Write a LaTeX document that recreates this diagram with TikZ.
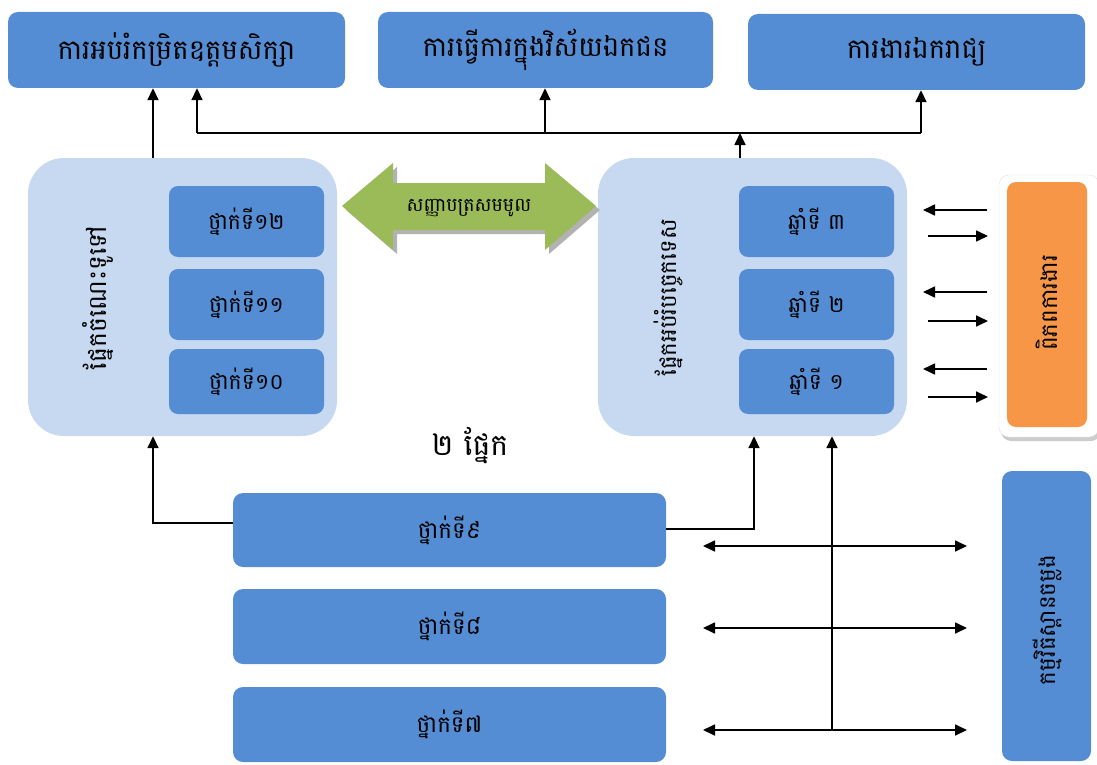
\documentclass[tikz,border=0pt]{standalone}
\usepackage{fontspec}
\newfontfamily\khmer[Script=Khmer]{Battambang}
\usetikzlibrary{arrows.meta,shadows}

\definecolor{boxblue}{RGB}{84,141,212}
\definecolor{paleblue}{RGB}{198,217,241}
\definecolor{leafgreen}{RGB}{155,187,89}
\definecolor{tangerine}{RGB}{247,150,70}

\tikzset{
  topbox/.style={fill=boxblue, rounded corners=10pt, minimum width=337pt, minimum height=76pt, font=\khmer\fontsize{27.5}{30}\selectfont},
  panel/.style={fill=paleblue, rounded corners=36pt, minimum width=309pt, minimum height=278pt},
  gradebox/.style={fill=boxblue, rounded corners=9pt, minimum width=155pt, font=\khmer\fontsize{22}{25}\selectfont},
  longbox/.style={fill=boxblue, rounded corners=10pt, minimum width=433pt, minimum height=74pt, font=\khmer\fontsize{23}{26}\selectfont},
  sidetext/.style={rotate=90, font=\khmer\fontsize{23}{26}\selectfont},
  arr/.style={line width=1.7pt, -{Triangle[length=12pt,width=11pt]}},
  biarr/.style={line width=1.7pt, {Triangle[length=12pt,width=11pt]}-{Triangle[length=12pt,width=11pt]}},
}

\begin{document}
\begin{tikzpicture}[x=1pt,y=-1pt]
  \useasboundingbox (0,0) rectangle (1097,765);

  % top row
  \node[topbox] (edu)   at (176.5,50) {ការអប់រំកម្រិតឧត្តមសិក្សា};
  \node[topbox, minimum width=335pt] (priv) at (545.5,50) {ការធ្វើការក្នុងវិស័យឯកជន};
  \node[topbox] (indep) at (916.5,52) {ការងារឯករាជ្យ};

  % the two sections
  \node[panel] (genL) at (182.5,297) {};
  \node[panel] (tecR) at (752.5,297) {};
  \node[sidetext, font=\khmer\fontsize{25}{28}\selectfont] (genT) at (98,298) {ផ្នែកចំណេះទូទៅ};
  \node[sidetext] (tecT) at (668,298) {ផ្នែកអប់រំបច្ចេកទេស};

  \node[gradebox, minimum height=71pt] (g12) at (246.5,221.5) {ថ្នាក់ទី១២};
  \node[gradebox, minimum height=71pt] (g11) at (246.5,304.5) {ថ្នាក់ទី១១};
  \node[gradebox, minimum height=65pt] (g10) at (246.5,381.5) {ថ្នាក់ទី១០};
  \node[gradebox, minimum height=71pt] (y3) at (816.5,221.5) {ឆ្នាំទី ៣};
  \node[gradebox, minimum height=71pt] (y2) at (816.5,304.5) {ឆ្នាំទី ២};
  \node[gradebox, minimum height=65pt] (y1) at (816.5,381.5) {ឆ្នាំទី ១};

  % equivalence arrow
  \fill[black!30] (346,210) -- (397,167) -- (397,187) -- (549,187) -- (549,167) -- (600,210)
     -- (549,254) -- (549,234) -- (397,234) -- (397,254) -- cycle;
  \fill[leafgreen] (342,206) -- (393,163) -- (393,183) -- (545,183) -- (545,163) -- (596,206)
     -- (545,250) -- (545,230) -- (393,230) -- (393,250) -- cycle;
  \node[font=\khmer\fontsize{19}{22}\selectfont] (equiv) at (469,208) {សញ្ញាបត្រសមមូល};

  \node[font=\khmer\fontsize{30}{33}\selectfont] (two) at (470,446) {២ ផ្នែក};

  % world of work
  \node[fill=white, draw=black!12, rounded corners=10pt, minimum width=100pt, minimum height=262pt,
        drop shadow={shadow xshift=2pt, shadow yshift=-4pt, fill=black!40, opacity=0.5}] (frame) at (1049,306) {};
  \node[fill=tangerine, rounded corners=9pt, minimum width=80pt, minimum height=245pt] (world) at (1047,304.5) {};
  \node[sidetext] (worldT) at (1047,303) {ពិភពការងារ};

  % lower grades
  \node[longbox] (g9) at (449.5,530) {ថ្នាក់ទី៩};
  \node[longbox, minimum height=75pt] (g8) at (449.5,626.5) {ថ្នាក់ទី៨};
  \node[longbox, minimum height=75pt] (g7) at (449.5,724.5) {ថ្នាក់ទី៧};

  \node[fill=boxblue, rounded corners=10pt, minimum width=89pt, minimum height=290pt] (bridge) at (1046.5,616) {};
  \node[sidetext] (bridgeT) at (1047,620) {កម្មវិធីស្ពានចម្លង};

  % paths upward
  \coordinate (aL) at (153,158);
  \coordinate (jL) at (197,133);
  \coordinate (jM) at (545,133);
  \coordinate (jT) at (740,133);
  \coordinate (jR) at (921,133);
  \draw[arr] (aL) -- (aL |- edu.south);
  \draw[line width=1.7pt] (jL) -- (jR);
  \draw[arr] (jL) -- (jL |- edu.south);
  \draw[arr] (jM) -- (jM |- priv.south);
  \draw[arr] (jR) -- (jR |- indep.south);
  \draw[arr] (tecR.north -| jT) -- (jT);

  % from grade 9
  \coordinate (kL) at (153,523);
  \coordinate (kR) at (754,529);
  \coordinate (vB) at (832,730);
  \draw[arr] (kL -| g9.west) -- (kL) -- (kL |- genL.south);
  \draw[arr] (kR -| g9.east) -- (kR) -- (kR |- tecR.south);
  \draw[arr] (vB) -- (vB |- tecR.south);

  % bridging links
  \foreach \y [count=\i] in {546,628,730} {
    \coordinate (bl\i) at (703,\y);
    \coordinate (br\i) at (967,\y);
    \draw[biarr] (bl\i) -- (br\i);
  }

  % links to the world of work
  \foreach \a/\b [count=\i] in {210/236,292/321,369/397} {
    \coordinate (wo\i) at (987,\a);
    \coordinate (wi\i) at (928,\b);
    \draw[arr] (wo\i) -- ++(-64,0);
    \draw[arr] (wi\i) -- ++(60,0);
  }
\end{tikzpicture}
\end{document}
